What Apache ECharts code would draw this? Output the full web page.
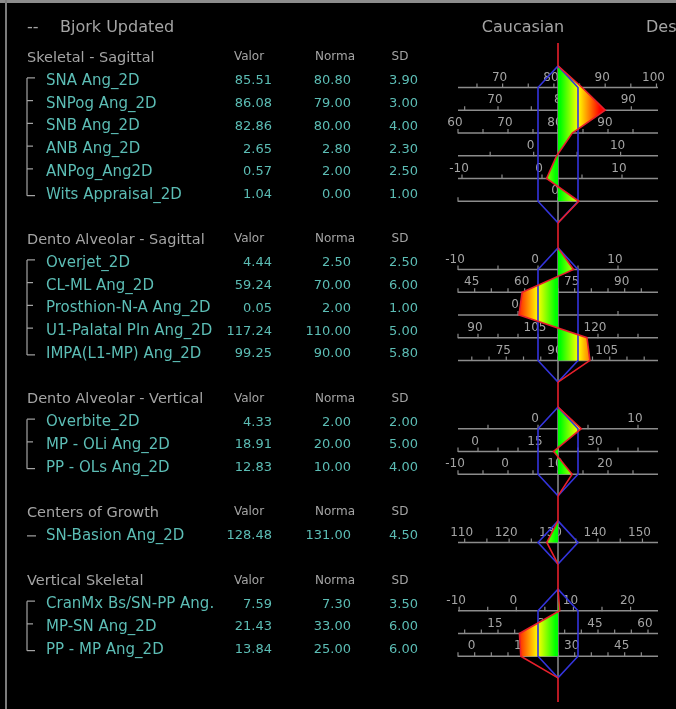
<!DOCTYPE html>
<html>
<head>
<meta charset="utf-8">
<script src="https://cdn.jsdelivr.net/npm/echarts@6/dist/echarts.min.js"></script>
<style>
  html, body { margin: 0; padding: 0; background: #000; }
  #chart { width: 676px; height: 709px; }
</style>
</head>
<body>
<div id="chart"></div>
<script>
// groups of measures, in drawing order
var groupNames = ['Skeletal - Sagittal', 'Dento Alveolar - Sagittal', 'Dento Alveolar - Vertical', 'Centers of Growth', 'Vertical Skeletal'];
var groupSizes = [6, 5, 3, 1, 3];

var measureNames = [
  'SNA Ang_2D', 'SNPog Ang_2D', 'SNB Ang_2D', 'ANB Ang_2D', 'ANPog_Ang2D', 'Wits Appraisal_2D',
  'Overjet_2D', 'CL-ML Ang_2D', 'Prosthion-N-A Ang_2D', 'U1-Palatal Pln Ang_2D', 'IMPA(L1-MP) Ang_2D',
  'Overbite_2D', 'MP - OLi Ang_2D', 'PP - OLs Ang_2D',
  'SN-Basion Ang_2D',
  'CranMx Bs/SN-PP Ang.', 'MP-SN Ang_2D', 'PP - MP Ang_2D'
];
var valor = [85.51, 86.08, 82.86, 2.65, 0.57, 1.04, 4.44, 59.24, 0.05, 117.24, 99.25, 4.33, 18.91, 12.83, 128.48, 7.59, 21.43, 13.84];
var norma = [80.80, 79.00, 80.00, 2.80, 2.00, 0.00, 2.50, 70.00, 2.00, 110.00, 90.00, 2.00, 20.00, 10.00, 131.00, 7.30, 33.00, 25.00];
var sd    = [3.90, 3.00, 4.00, 2.30, 2.50, 1.00, 2.50, 6.00, 1.00, 5.00, 5.80, 2.00, 5.00, 4.00, 4.50, 3.50, 6.00, 6.00];
// tick label spacing on each row scale (minor ticks every 5)
var labelSteps = [10, 10, 10, 10, 10, 10, 10, 15, 10, 15, 15, 10, 15, 10, 10, 10, 15, 15];

var TEAL = '#5cbdb5';
var GRAY_TXT = '#a4a4a4';
var AXIS_GRAY = '#8c8c8c';
var BLUE = '#3434dc';
var RED = '#e8202c';
var FONT = '"DejaVu Sans"';

// layout in row slots: header, rows, one empty slot
var rowSlot = [], headerSlot = [], groupStart = [];
var slot = 0, idx = 0;
groupSizes.forEach(function (n) {
  headerSlot.push(slot);
  groupStart.push(idx);
  for (var k = 1; k <= n; k++) { rowSlot.push(slot + k); idx++; }
  slot += n + 2;
});
var LINE_OFF = 0.29;   // scale line sits a bit below the text line
var TIP = 0.95;        // polygon tips above/below each group
var RED_START = -0.66, RED_END = 28.3;

function zScore(i) { return (valor[i] - norma[i]) / sd[i]; }

function txt(x, y, text, color, size, align) {
  return {
    type: 'text', x: x, y: y,
    style: {
      text: text, fill: color, font: size + 'px ' + FONT,
      align: align || 'left', verticalAlign: 'middle',
      textAlign: align || 'left', textVerticalAlign: 'middle'
    }
  };
}
function seg(p, q, color, w) {
  return { type: 'line', shape: { x1: p[0], y1: p[1], x2: q[0], y2: q[1] }, style: { stroke: color, lineWidth: w } };
}

// left table: names and numbers
function renderTableRow(params, api) {
  var i = params.dataIndex;
  var c = function (x) { return api.coord([x, rowSlot[i]]); };
  var y = c(0)[1];
  var kids = [
    txt(c(46)[0], y, measureNames[i], TEAL, 15),
    txt(c(272)[0], y, valor[i].toFixed(2), TEAL, 13, 'right'),
    txt(c(351)[0], y, norma[i].toFixed(2), TEAL, 13, 'right'),
    txt(c(418)[0], y, sd[i].toFixed(2), TEAL, 13, 'right')
  ];
  return { type: 'group', children: kids };
}

// left table: group headings and brackets
function renderTableGroup(params, api) {
  var g = params.dataIndex;
  var hy = api.coord([0, headerSlot[g]])[1];
  var kids = [
    txt(api.coord([27, 0])[0], hy, groupNames[g], GRAY_TXT, 14.5),
    txt(api.coord([249, 0])[0], hy - 1, 'Valor', GRAY_TXT, 12, 'center'),
    txt(api.coord([335, 0])[0], hy - 1, 'Norma', GRAY_TXT, 12, 'center'),
    txt(api.coord([400, 0])[0], hy - 1, 'SD', GRAY_TXT, 12, 'center')
  ];
  var s = groupStart[g], n = groupSizes[g];
  var x0 = api.coord([27, 0])[0];
  if (n === 1) {
    var y1 = api.coord([0, rowSlot[s]])[1];
    kids.push(seg([x0, y1], [x0 + 9, y1], GRAY_TXT, 1.2));
  } else {
    var yF = api.coord([0, rowSlot[s]])[1] - 3;
    var yL = api.coord([0, rowSlot[s + n - 1]])[1] + 1;
    kids.push(seg([x0, yF], [x0, yL], GRAY_TXT, 1.2));
    for (var k = 0; k < n; k++) {
      var yy = api.coord([0, rowSlot[s + k]])[1];
      if (k === 0) kids.push(seg([x0, yF], [x0 + 8, yF], GRAY_TXT, 1.2));
      else if (k === n - 1) kids.push(seg([x0, yL], [x0 + 8, yL], GRAY_TXT, 1.2));
      else kids.push(seg([x0, yy - 3], [x0 + 6, yy - 3], GRAY_TXT, 1.2));
    }
  }
  return { type: 'group', children: kids };
}

// right side: one scale per measure, norma +/- 5 SD
function renderScale(params, api) {
  var i = params.dataIndex;
  var ys = rowSlot[i] + LINE_OFF;
  var kids = [seg(api.coord([-5, ys]), api.coord([5, ys]), AXIS_GRAY, 1.5)];
  var lo = norma[i] - 5 * sd[i], hi = norma[i] + 5 * sd[i];
  for (var v = Math.ceil(lo / 5 - 1e-9) * 5; v < hi - 1e-6; v += 5) {
    var p = api.coord([(v - norma[i]) / sd[i], ys]);
    kids.push(seg([p[0], p[1] - 4], [p[0], p[1] + 0.5], AXIS_GRAY, 1.2));
    if (v % labelSteps[i] === 0) kids.push(txt(p[0] - 3, p[1] - 10, String(v), GRAY_TXT, 12, 'center'));
  }
  return { type: 'group', children: kids };
}

// right side: polygon per group
function renderPolygon(params, api) {
  var g = params.dataIndex, s = groupStart[g], e = s + groupSizes[g] - 1;
  var c = function (x, y) { return api.coord([x, y]); };
  var yFirst = rowSlot[s] + LINE_OFF, yLast = rowSlot[e] + LINE_OFF;
  var yTop = yFirst - TIP, yBot = yLast + TIP;
  var pts = [c(0, yTop)];
  for (var i = s; i <= e; i++) pts.push(c(zScore(i), rowSlot[i] + LINE_OFF));
  var fillPts = pts.concat([c(0, yLast)]);
  var redPts = pts.concat([c(0, yBot)]);
  var blue = [c(0, yTop), c(1, yFirst), c(1, yLast), c(0, yBot), c(-1, yLast), c(-1, yFirst)];
  var gL = c(-2.1, 0)[0], gR = c(2.1, 0)[0];
  var grad = new echarts.graphic.LinearGradient(gL, 0, gR, 0, [
    { offset: 0, color: '#ff0000' },
    { offset: 0.13, color: '#ff8000' },
    { offset: 0.26, color: '#ffff00' },
    { offset: 0.47, color: '#00ff00' },
    { offset: 0.53, color: '#00ff00' },
    { offset: 0.74, color: '#ffff00' },
    { offset: 0.87, color: '#ff8000' },
    { offset: 1, color: '#ff0000' }
  ], true);
  var prevEnd = g === 0 ? RED_START : rowSlot[groupStart[g - 1] + groupSizes[g - 1] - 1] + LINE_OFF + TIP;
  var kids = [
    seg(c(0, yTop), c(0, yBot), AXIS_GRAY, 1.5),
    { type: 'polygon', shape: { points: fillPts }, style: { fill: grad } },
    { type: 'polygon', shape: { points: blue }, style: { fill: null, stroke: BLUE, lineWidth: 1.6 } },
    { type: 'polyline', shape: { points: redPts }, style: { fill: null, stroke: RED, lineWidth: 1.6 } },
    seg(c(0, prevEnd), c(0, yTop), RED, 1.6)
  ];
  if (g === groupSizes.length - 1) kids.push(seg(c(0, yBot), c(0, RED_END), RED, 1.6));
  return { type: 'group', children: kids };
}

var chart = echarts.init(document.getElementById('chart'));
chart.setOption({
  backgroundColor: '#000',
  animation: false,
  grid: [
    { left: 0, width: 440, top: 24, height: 682.5 },
    { left: 458, width: 200, top: 24, height: 682.5 }
  ],
  xAxis: [
    { gridIndex: 0, type: 'value', min: 0, max: 440, show: false },
    { gridIndex: 1, type: 'value', min: -5, max: 5, show: false }
  ],
  yAxis: [
    { gridIndex: 0, type: 'value', min: -1.5, max: 28.5, inverse: true, show: false },
    { gridIndex: 1, type: 'value', min: -1.5, max: 28.5, inverse: true, show: false }
  ],
  graphic: [
    { type: 'rect', shape: { x: 0, y: 0, width: 676, height: 3 }, style: { fill: '#8c8c8c' } },
    { type: 'rect', shape: { x: 5, y: 0, width: 2, height: 709 }, style: { fill: '#7c7c7c' } },
    { type: 'text', x: 27, y: 28, style: { text: '--', fill: GRAY_TXT, font: '16px ' + FONT, verticalAlign: 'middle' } },
    { type: 'text', x: 60, y: 28, style: { text: 'Bjork Updated', fill: GRAY_TXT, font: '16px ' + FONT, verticalAlign: 'middle' } },
    { type: 'text', x: 523, y: 28, style: { text: 'Caucasian', fill: GRAY_TXT, font: '16px ' + FONT, align: 'center', verticalAlign: 'middle' } },
    { type: 'text', x: 646, y: 28, style: { text: 'Desc', fill: GRAY_TXT, font: '16px ' + FONT, verticalAlign: 'middle' } }
  ],
  series: [
    { type: 'custom', xAxisIndex: 0, yAxisIndex: 0, clip: false, z: 2,
      data: rowSlot.map(function (s) { return [0, s]; }), renderItem: renderTableRow },
    { type: 'custom', xAxisIndex: 0, yAxisIndex: 0, clip: false, z: 2,
      data: headerSlot.map(function (s) { return [0, s]; }), renderItem: renderTableGroup },
    { type: 'custom', xAxisIndex: 1, yAxisIndex: 1, clip: false, z: 2,
      data: rowSlot.map(function (s, i) { return [zScore(i), s]; }), renderItem: renderScale },
    { type: 'custom', xAxisIndex: 1, yAxisIndex: 1, clip: false, z: 3,
      data: headerSlot.map(function (s) { return [0, s]; }), renderItem: renderPolygon }
  ]
});
</script>
</body>
</html>
